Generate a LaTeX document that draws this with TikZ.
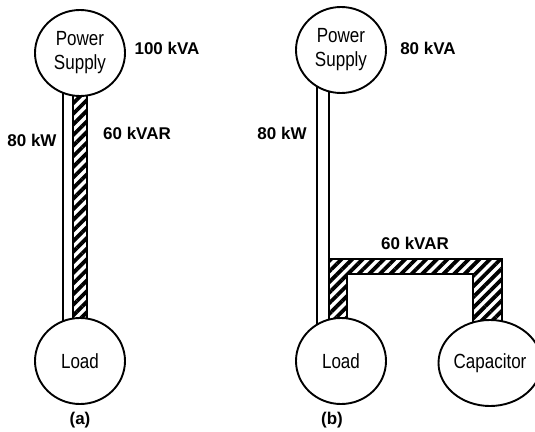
\documentclass[tikz,border=0pt]{standalone}
\usepackage{fontspec}
\setmainfont{Liberation Sans}
\newfontfamily\narrowsans[FakeStretch=0.83]{Liberation Sans}
\usetikzlibrary{shapes.geometric,patterns.meta,backgrounds}

\begin{document}
\begin{tikzpicture}[x=1pt, y=-1pt,
  every node/.style={font=\bfseries\fontsize{17}{19}\selectfont},
  unit/.style={draw, ellipse, line width=1.9pt, fill=white, inner sep=0pt,
    minimum width=90pt, minimum height=86pt, align=center,
    font=\narrowsans\fontsize{20.5}{24}\selectfont},
  wire/.style={draw, line width=1.9pt, fill=white},
  hatched/.style={draw, line width=1.9pt,
    pattern={Lines[angle=45,distance=7.5pt,line width=3.8pt]}}]
  \useasboundingbox (0,0) rectangle (535,431);
  % --- (a) supply and load ---
  \node[unit] (ps_a) at (80,53) {Power\\Supply};
  \node[unit] (load_a) at (80,361) {Load};
  \node (kva_a) at (167,48) {100 kVA};
  \node (kvar_a) at (137,133) {60 kVAR};
  \node (kw_a) at (32,140) {80 kW};
  \node (cap_a) at (80,420) {(a)};
  % --- (b) supply, load and capacitor ---
  \node[unit] (ps_b) at (341,50) {Power\\Supply};
  \node[unit] (load_b) at (341,361) {Load};
  \node[unit] (cap_b) at (490,363) {Capacitor};
  \node (kva_b) at (428,48) {80 kVA};
  \node (kw_b) at (282,133) {80 kW};
  \node (kvar_b) at (415,243) {60 kVAR};
  \node (cap_lbl_b) at (332,420) {(b)};
  \coordinate (topout) at (0,259);
  \coordinate (topin) at (0,274);
  % --- conductors, behind the circles ---
  \begin{pgfonlayer}{background}
    \draw[wire] ([xshift=-17pt]ps_a.center) rectangle ([xshift=-7pt]load_a.center);
    \draw[hatched] ([xshift=-7pt]ps_a.center) rectangle ([xshift=7pt]load_a.center);
    \draw[wire] ([xshift=-24pt]ps_b.center) rectangle ([xshift=-12pt]load_b.center);
    \draw[hatched] ([xshift=-12pt]load_b.center) |- ([xshift=12pt]cap_b.center |- topout)
      -- ([xshift=12pt]cap_b.center) -- ([xshift=-17pt]cap_b.center)
      |- ([xshift=6pt]load_b.center |- topin) -- ([xshift=6pt]load_b.center) -- cycle;
  \end{pgfonlayer}
\end{tikzpicture}
\end{document}
